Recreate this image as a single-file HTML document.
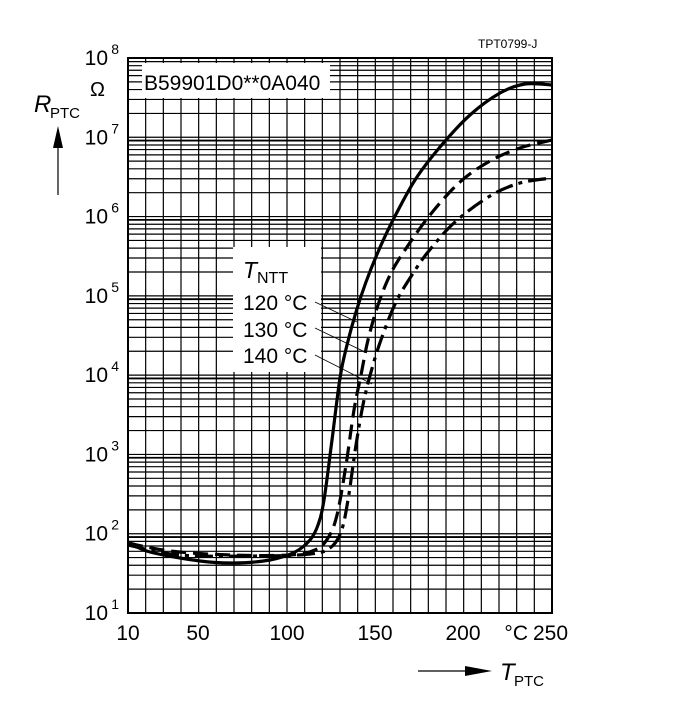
<!DOCTYPE html>
<html><head><meta charset="utf-8"><style>
body{margin:0;background:#fff}
svg text{font-family:"Liberation Sans",sans-serif;fill:#000}
</style></head><body>
<svg id="s" width="700" height="720" xmlns="http://www.w3.org/2000/svg">
<g id="grid" stroke="#000" stroke-width="1.2"></g>
<rect x="128" y="58" width="424" height="555" fill="none" stroke="#000" stroke-width="2"/>
<rect x="142" y="63" width="188" height="35" fill="#fff"/>
<text x="144" y="90" font-size="21">B59901D0**0A040</text>
<rect x="233" y="247" width="88" height="125" fill="#fff"/>
<text x="243" y="278" font-size="23" font-style="italic">T</text><text x="257" y="283" font-size="16">NTT</text>
<text x="243" y="310" font-size="21">120 °C</text>
<text x="243" y="337" font-size="21">130 °C</text>
<text x="243" y="363" font-size="21">140 °C</text>
<g stroke="#000" stroke-width="0.8">
<line x1="315" y1="302" x2="357" y2="322"/>
<line x1="315" y1="328" x2="365" y2="352"/>
<line x1="315" y1="355" x2="372" y2="384"/>
</g>
<g id="curves" fill="none" stroke="#000" stroke-width="3.2"></g>
<text x="478" y="48" font-size="12">TPT0799-J</text>
<g id="yl" font-size="21" text-anchor="end"></g>
<text x="90" y="96" font-size="20" font-family="Liberation Serif">Ω</text>
<text x="34" y="112" font-size="24" font-style="italic">R</text><text x="50" y="118" font-size="15">PTC</text>
<line x1="58" y1="195" x2="58" y2="140" stroke="#000" stroke-width="1.2"/>
<polygon points="53,148 63,148 58,126" fill="#000"/>
<g font-size="21" text-anchor="middle">
<text x="128" y="640">10</text><text x="198" y="640">50</text><text x="287" y="640">100</text>
<text x="375" y="640">150</text><text x="463" y="640">200</text>
<text x="528" y="640" text-anchor="end">°C</text><text x="533" y="640" text-anchor="start">250</text>
</g>
<line x1="418" y1="671" x2="470" y2="671" stroke="#000" stroke-width="1.2"/>
<polygon points="465,666 492,671 465,676" fill="#000"/>
<text x="500" y="680" font-size="24" font-style="italic">T</text><text x="514" y="686" font-size="15">PTC</text>
</svg>
<script>
var ns="http://www.w3.org/2000/svg";
function el(p,t,a){var e=document.createElementNS(ns,t);for(var k in a)e.setAttribute(k,a[k]);p.appendChild(e);return e;}
var g=document.getElementById("grid");
for(var i=1;i<24;i++){var x=128+i*424/24;el(g,"line",{x1:x,y1:58,x2:x,y2:613});}
var D=555/7;
for(var d=0;d<7;d++){for(var k=1;k<=9;k++){var y=613-(d+Math.log10(k))*D;el(g,"line",{x1:128,y1:y,x2:552,y2:y});if(k==1&&d>0)el(g,"line",{x1:128,y1:y+3,x2:552,y2:y+3});}}
var yl=document.getElementById("yl");
for(var d=0;d<=7;d++){var y=613-d*D;var t=el(yl,"text",{x:108,y:y+7});t.textContent="10";var s=el(yl,"text",{x:119,y:y-4,"font-size":"14"});s.textContent=String(d+1);}
function path(P){var s="M"+P[0][0]+","+P[0][1];for(var i=0;i<P.length-1;i++){var p0=P[i-1]||P[i],p1=P[i],p2=P[i+1],p3=P[i+2]||p2;s+=" C"+(p1[0]+(p2[0]-p0[0])/6)+","+(p1[1]+(p2[1]-p0[1])/6)+" "+(p2[0]-(p3[0]-p1[0])/6)+","+(p2[1]-(p3[1]-p1[1])/6)+" "+p2[0]+","+p2[1];}return s;}
var c=document.getElementById("curves");
el(c,"path",{d:path([[128,542],[150,552],[200,561],[234,563],[270,560],[295,552],[310,540],[318,525],[324,500],[332,440],[340,378],[347,345],[356,312],[366,282],[378,252],[392,222],[415,180],[440,147],[470,115],[500,93],[525,84],[552,85]])});
el(c,"path",{d:path([[128,543],[170,551],[230,555],[290,555],[315,550],[328,538],[337,515],[346,465],[354,410],[361,375],[368,340],[378,305],[390,275],[405,250],[430,215],[460,182],[490,161],[520,148],[552,140]]),"stroke-dasharray":"15,7"});
el(c,"path",{d:path([[128,545],[180,555],[260,556],[310,554],[330,548],[341,532],[348,500],[356,445],[364,400],[373,365],[382,337],[396,302],[412,275],[428,252],[455,222],[490,196],[520,183],[552,178]]),"stroke-dasharray":"18,6,4,6"});
</script>
</body></html>
